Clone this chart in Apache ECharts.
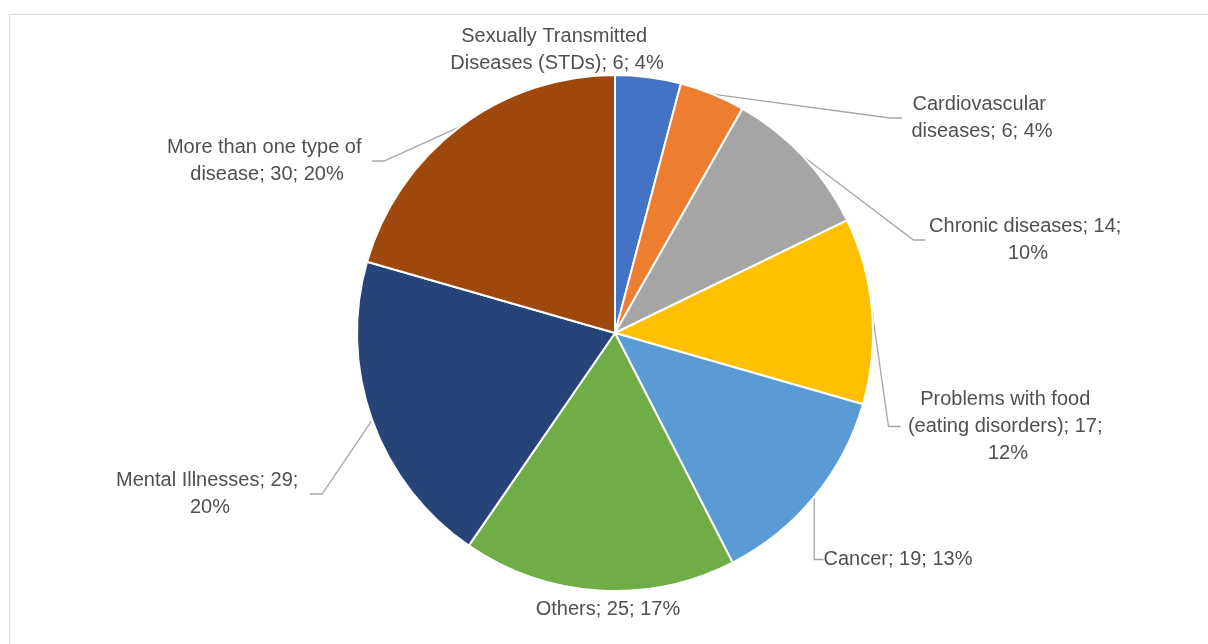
<!DOCTYPE html>
<html>
<head>
<meta charset="utf-8">
<title>Types of disease</title>
<script src="https://cdn.jsdelivr.net/npm/echarts@6/dist/echarts.min.js"></script>
<style>
  html, body { margin: 0; padding: 0; background: #fff; }
  #chart { width: 1208px; height: 644px; }
</style>
</head>
<body>
<div id="chart"></div>
<script>
// data
const categories = [
  'Sexually Transmitted Diseases (STDs)',
  'Cardiovascular diseases',
  'Chronic diseases',
  'Problems with food (eating disorders)',
  'Cancer',
  'Others',
  'Mental Illnesses',
  'More than one type of disease'
]
const counts = [6, 6, 14, 17, 19, 25, 29, 30]
const percents = [4, 4, 10, 12, 13, 17, 20, 20]   // as printed on the labels

const colors = ['#4472C4', '#ED7D31', '#A5A5A5', '#FFC000', '#5B9BD5', '#70AD47', '#264478', '#9E480E']

// label box: centre x, top y, wrap width (layout only)
const labelBox = [
  [557, 23, 225],
  [982, 91, 160],
  [1028, 213, 205],
  [1008, 386, 215],
  [898, 546, 0],
  [608, 596, 0],
  [210, 467, 200],
  [267, 134, 210]
]
const noLine = [0, 5]   // these labels sit right on the pie, no leader line

const chart = echarts.init(document.getElementById('chart'))

const pieData = categories.map((name, i) => {
  const item = { name: name, value: counts[i] }
  if (labelBox[i][2]) item.label = { width: labelBox[i][2], overflow: 'break' }
  if (noLine.indexOf(i) >= 0) item.labelLine = { show: false }
  return item
})

chart.setOption({
  animation: false,
  color: colors,
  graphic: [{
    type: 'rect',
    silent: true,
    shape: { x: 9.5, y: 14.5, width: 1230, height: 660 },
    style: { fill: 'none', stroke: '#d9d9d9', lineWidth: 1 }
  }],
  series: [{
    type: 'pie',
    center: [615, 333],
    radius: 258,
    startAngle: 90,
    clockwise: true,
    data: pieData,
    itemStyle: { borderColor: '#fff', borderWidth: 2 },
    label: {
      show: true,
      position: 'outside',
      color: '#505050',
      fontFamily: 'Liberation Sans, Arial, sans-serif',
      fontSize: 20,
      lineHeight: 27,
      align: 'center',
      formatter: p => p.name + '; ' + p.value + '; ' + percents[p.dataIndex] + '%'
    },
    labelLine: {
      show: true,
      length: 20,
      length2: 12,
      lineStyle: { color: '#a6a6a6', width: 1.3 }
    },
    labelLayout: p => ({
      x: labelBox[p.dataIndex][0],
      y: labelBox[p.dataIndex][1],
      align: 'center',
      verticalAlign: 'top'
    })
  }]
})
</script>
</body>
</html>
